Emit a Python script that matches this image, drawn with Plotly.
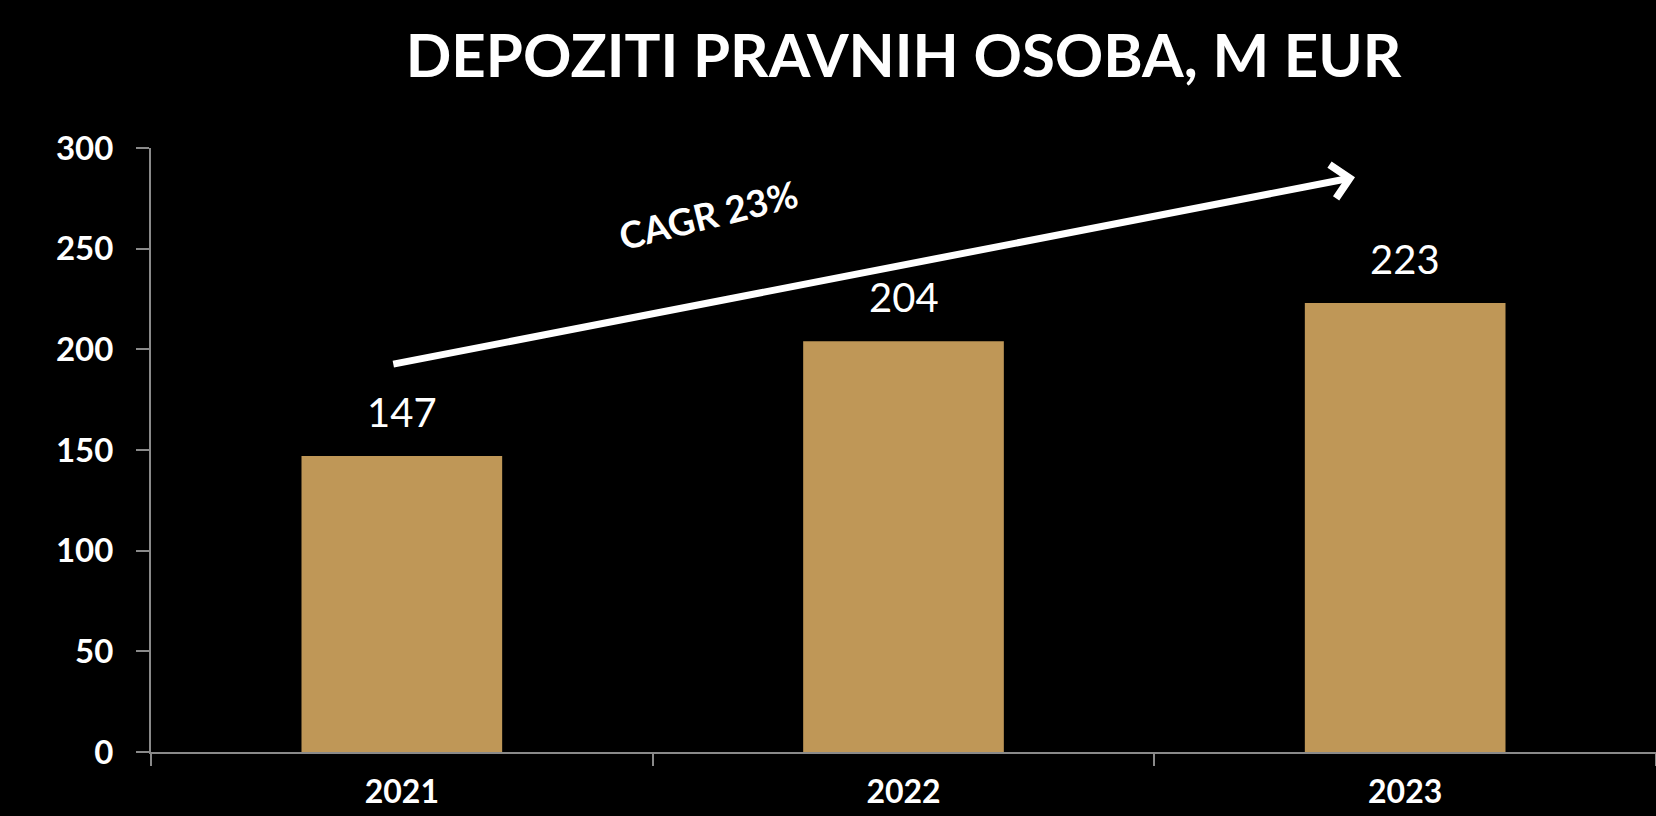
import plotly.graph_objects as go

years = ["2021", "2022", "2023"]
values = [147, 204, 223]
y_ticks = [0, 50, 100, 150, 200, 250, 300]
title_text = "DEPOZITI PRAVNIH OSOBA, M EUR"
cagr_text = "CAGR 23%"

BAR = "#BF9757"
AXIS = "#8a8a8a"
FONT = "Lato"

fig = go.Figure()
fig.add_trace(go.Bar(x=years, y=values, marker=dict(color=BAR, line=dict(width=0)),
                     hoverinfo="skip"))

# value labels above bars (category index positions)
for i, v in enumerate(values):
    fig.add_annotation(x=i, y=v, text=str(v), showarrow=False, yshift=44,
                       font=dict(family=FONT, size=40, color="white"))

# CAGR arrow (data coords: category index)
fig.add_annotation(x=1.9, y=285.5, ax=-0.02, ay=192.5, xref="x", yref="y",
                   axref="x", ayref="y", text="", showarrow=True,
                   arrowhead=4, arrowsize=0.95, arrowwidth=7, arrowcolor="white")
fig.add_annotation(x=0.61, y=267, text=cagr_text, showarrow=False, textangle=-14,
                   font=dict(family=FONT, size=37, color="white", weight="bold"))

fig.update_layout(
    width=1656, height=816,
    paper_bgcolor="black", plot_bgcolor="black",
    margin=dict(l=151, r=0, t=148, b=64),
    showlegend=False,
    bargap=0.6,
    title=dict(text=title_text, x=0.5, xref="paper", xanchor="center",
               y=1 - 56 / 816, yref="container", yanchor="middle",
               font=dict(family=FONT, size=60, color="white", weight="bold")),
)

fig.update_xaxes(type="category", range=[-0.5, 2.5], showgrid=False, showline=True,
                 linecolor=AXIS, linewidth=2, tickangle=0, automargin=False,
                 ticks="outside", tickson="boundaries", ticklen=12, tickcolor=AXIS, tickwidth=2,
                 tickfont=dict(family=FONT, size=32, color="white", weight="bold"),
                 ticklabelstandoff=11, zeroline=False, fixedrange=True)
fig.update_yaxes(range=[0, 300], tickvals=y_ticks, showgrid=False, showline=True,
                 linecolor=AXIS, linewidth=2, ticks="outside", ticklen=13, tickcolor=AXIS,
                 tickwidth=2, zeroline=False, automargin=False,
                 tickfont=dict(family=FONT, size=33, color="white", weight="bold"),
                 ticklabelstandoff=16, fixedrange=True)

fig.write_html(
    "out.html",
    config={"displayModeBar": False},
    post_script="document.body.style.margin='0';document.body.style.background='black';"
                "document.documentElement.style.background='black';",
)
